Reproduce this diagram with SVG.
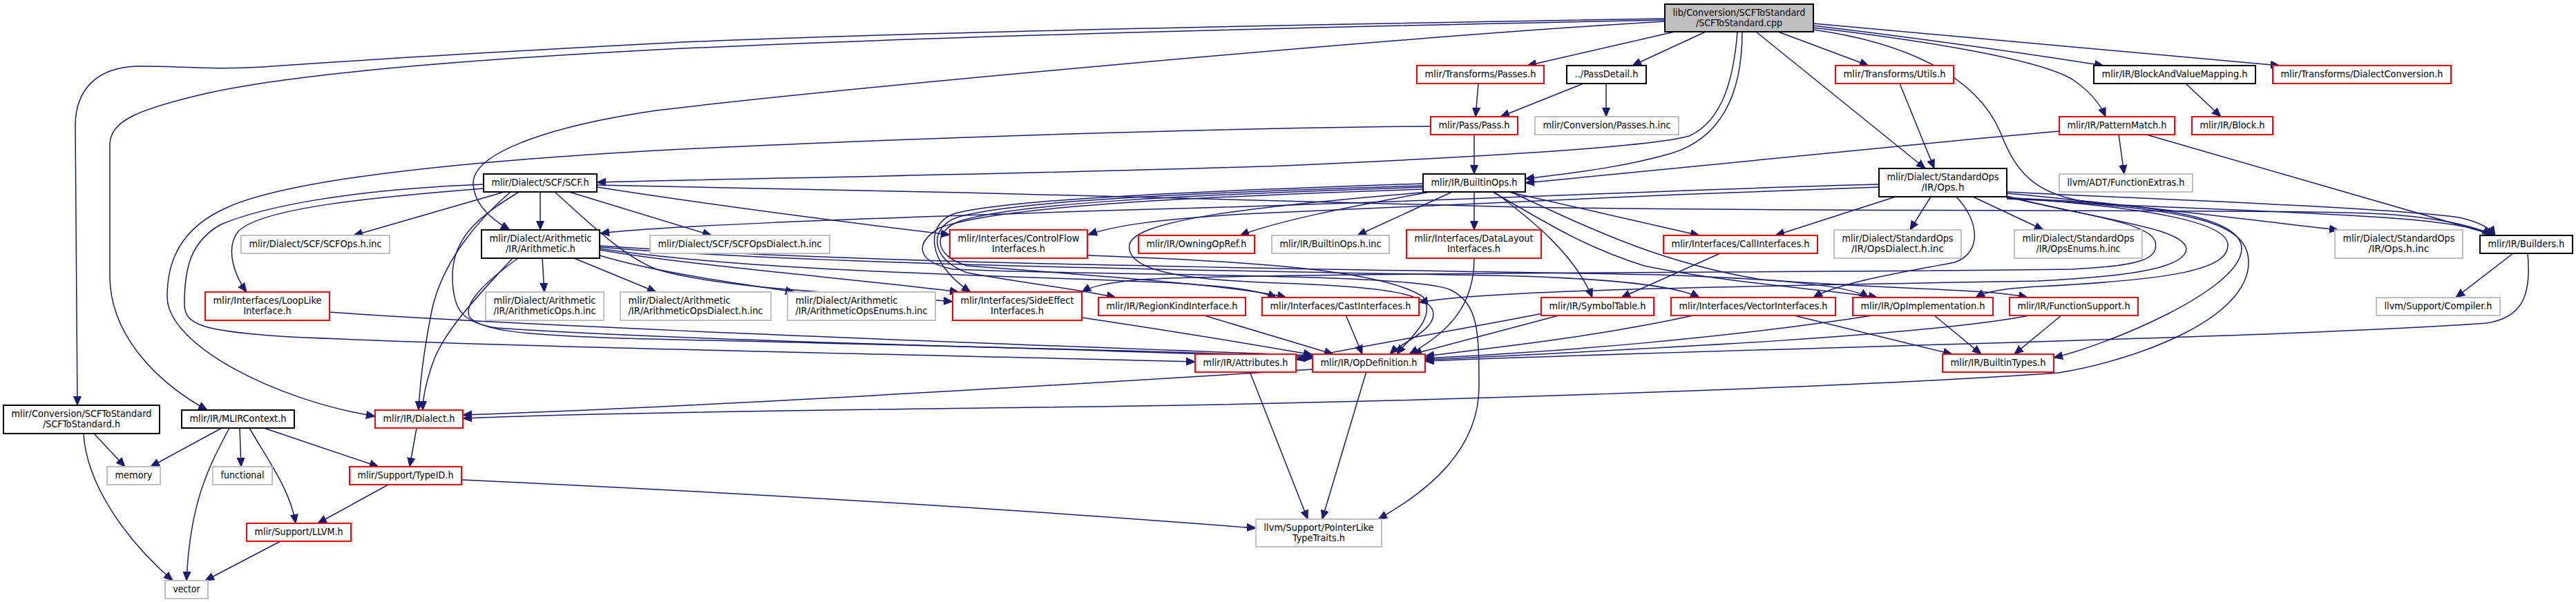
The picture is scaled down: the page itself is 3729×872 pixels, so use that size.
<svg xmlns="http://www.w3.org/2000/svg" width="3729" height="872" viewBox="0 0 3729 872">
<style>
rect{fill:#fff;stroke-width:2}
.k{stroke:#000}
.r{stroke:#ff0000}
.g{stroke:#bfbfbf}
.root{fill:#bfbfbf;stroke:#000}
text{font-family:"DejaVu Sans Condensed","DejaVu Sans",sans-serif;font-size:13.5px;fill:#000;text-anchor:middle}
.s{text-anchor:start}
#edges path{fill:none;stroke:#191970;stroke-width:1.5;marker-end:url(#ah)}
</style>
<defs>
<marker id="ah" markerWidth="14" markerHeight="12" refX="13" refY="6" orient="auto" markerUnits="userSpaceOnUse"><path d="M0,0.5 L13,6 L0,11.5 z" fill="#191970" stroke="#191970" stroke-width="1"/></marker>
</defs>
<rect x="0" y="0" width="3729" height="872" style="fill:#fff;stroke:none"/>
<g id="edges">
<path d="M2410,27 C1800,37 1200,50 950,63 C700,76 480,90 380,97 C300,102 260,95 200,96 C140,97 110,130 109,180 L112,587"/>
<path d="M2410,29 C1800,41 1300,55 950,72 C650,88 420,108 300,135 C200,158 159,175 159,210 L159,400 C159,480 220,550 300,594"/>
<path d="M2410,31 C2000,55 1200,130 950,160 C780,185 685,225 685,265 C685,295 712,318 738,333"/>
<path d="M2515,46 C2510,110 2495,175 2445,197 C2400,210 2200,225 1860,240 C1500,252 1100,258 864,264"/>
<path d="M2522,46 C2522,140 2490,200 2420,222 C2340,245 2260,252 2208,259"/>
<path d="M2424,46 L2211,95"/>
<path d="M2469,46 L2363,95"/>
<path d="M2542,46 L2787,244"/>
<path d="M2574,46 L2705,95"/>
<path d="M2625,40 C2780,58 2950,85 3000,115 C3025,132 3040,150 3048,169"/>
<path d="M2625,37 C2800,58 2950,80 3045,95"/>
<path d="M2625,34 L3300,95"/>
<path d="M2625,43 C2760,62 2860,110 2895,190 C2920,255 2950,288 3050,296 C3300,308 3560,312 3612,341"/>
<path d="M2140,121 L2136,169"/>
<path d="M2292,121 L2172,169"/>
<path d="M2325,121 L2325,169"/>
<path d="M2134,195 L2134,252"/>
<path d="M2071,183 C1700,186 1200,205 950,218 C650,235 420,260 330,300 C260,330 242,380 242,430 C242,500 400,580 543,603"/>
<path d="M2750,121 L2800,244"/>
<path d="M3164,121 L3215,169"/>
<path d="M3067,195 L3075,252"/>
<path d="M3107,195 L3612,341"/>
<path d="M2981,190 C2700,215 2400,245 2208,265"/>
<path d="M782,278 L782,333"/>
<path d="M730,278 L512,341"/>
<path d="M824,278 L1030,341"/>
<path d="M700,273 C550,285 380,300 345,335 C325,360 340,400 357,423"/>
<path d="M864,271 C1050,300 1250,325 1375,340"/>
<path d="M803,278 C850,320 900,370 950,390 C1050,420 1250,425 1379,437"/>
<path d="M751,278 C700,310 655,340 655,400 C655,450 670,468 720,475 C1000,495 1600,505 1900,519"/>
<path d="M739,278 C690,320 640,380 625,450 C615,500 608,550 606,594"/>
<path d="M864,268 C1300,276 1800,288 2200,300 C2700,308 3300,302 3450,310 C3540,316 3590,330 3606,341"/>
<path d="M700,267 C500,275 380,300 320,325 C275,350 267,390 267,440 C267,470 290,480 420,488 C800,505 1400,515 1730,524"/>
<path d="M785,374 L788,423"/>
<path d="M831,374 L950,423"/>
<path d="M868,370 C950,395 1080,412 1150,423"/>
<path d="M868,362 C1000,385 1250,405 1388,423"/>
<path d="M868,360 C1100,395 1500,400 1700,410 C1780,415 1820,420 1848,431"/>
<path d="M868,358 C1200,385 1800,392 2200,400 C2350,405 2430,415 2460,431"/>
<path d="M868,356 C1300,385 2000,390 2400,398 C2600,405 2680,415 2705,431"/>
<path d="M742,374 C700,420 640,480 625,530 C615,560 612,580 612,594"/>
<path d="M750,374 C700,410 670,440 680,460 C700,480 760,485 900,490 C1300,500 1700,508 1900,517"/>
<path d="M477,452 C800,475 1500,500 1900,515"/>
<path d="M2102,278 L1965,341"/>
<path d="M2134,278 L2134,333"/>
<path d="M2163,278 C2220,320 2280,370 2305,431"/>
<path d="M2184,278 L2460,341"/>
<path d="M2070,278 C1950,300 1850,320 1795,341"/>
<path d="M2161,278 C2250,330 2300,360 2380,385 C2500,410 2650,420 2718,431"/>
<path d="M2187,278 C2300,330 2400,380 2550,405 C2750,420 2880,418 2935,431"/>
<path d="M2060,266 C1700,278 1450,290 1380,310 C1340,325 1340,380 1405,423"/>
<path d="M2060,269 C1700,280 1460,292 1385,315 C1345,330 1345,375 1400,395 C1480,410 1570,420 1615,431"/>
<path d="M2060,271 C1700,283 1470,295 1390,320 C1350,335 1350,370 1400,385 C1600,400 1800,415 1862,431"/>
<path d="M2060,274 C1700,286 1440,300 1360,330 C1320,355 1330,380 1380,390 C1600,400 2050,395 2100,420 C2140,440 2141,480 2141,560 C2141,650 2070,710 1995,752"/>
<path d="M2070,278 C1800,300 1640,320 1635,355 C1630,390 1700,405 1850,410 C2000,415 2075,425 2075,455 C2075,480 2030,495 2012,513"/>
<path d="M2720,267 C2400,275 2100,292 1600,305 C1200,318 950,328 869,338"/>
<path d="M2720,271 C2400,282 2000,300 1800,310 C1680,318 1620,325 1575,340"/>
<path d="M2744,285 L2570,341"/>
<path d="M2795,285 L2765,333"/>
<path d="M2856,285 L2958,333"/>
<path d="M2905,280 C3100,298 3250,318 3385,333"/>
<path d="M2905,278 C3100,288 3450,300 3560,315 C3590,322 3605,330 3612,341"/>
<path d="M2905,284 C3000,310 3110,320 3120,350 C3125,375 3100,385 3000,390 C2600,395 1800,395 1650,405 C1600,410 1580,415 1566,423"/>
<path d="M2905,285 C3050,320 3160,330 3165,360 C3165,385 3100,400 2950,407 C2500,415 2150,420 2054,438"/>
<path d="M2905,286 C3100,300 3225,320 3225,355 C3225,390 3150,405 2950,415 C2900,418 2875,422 2860,431"/>
<path d="M2905,287 C3150,295 3245,320 3245,360 C3245,420 3050,500 2973,518"/>
<path d="M2905,288 C3200,300 3255,330 3255,380 C3255,460 3100,520 2980,540 C2700,560 2000,585 1500,590 C1100,595 800,600 670,606"/>
<path d="M2832,285 C2865,320 2870,365 2830,380 C2750,395 2660,410 2625,431"/>
<path d="M3638,367 L3555,431"/>
<path d="M3659,367 C3665,430 3650,460 3600,468 C3300,490 2500,505 2063,523"/>
<path d="M2490,367 L2347,431"/>
<path d="M2134,374 C2134,440 2100,480 2040,513"/>
<path d="M1574,370 C1800,378 2000,390 2060,430 C2080,460 2040,490 2022,513"/>
<path d="M1566,460 C1700,480 1820,500 1900,514"/>
<path d="M1740,456 L1930,513"/>
<path d="M1948,456 L1972,513"/>
<path d="M2233,454 C2100,480 1950,505 1876,521"/>
<path d="M2260,456 L2045,513"/>
<path d="M2456,456 C2300,490 2150,505 2063,516"/>
<path d="M2593,456 L2826,513"/>
<path d="M2717,456 C2500,490 2250,510 2063,519"/>
<path d="M2799,456 L2868,513"/>
<path d="M2943,456 C2800,485 2400,505 2063,521"/>
<path d="M2985,456 L2916,513"/>
<path d="M1809,538 L1893,752"/>
<path d="M1978,538 L1914,752"/>
<path d="M1900,535 C1500,560 1000,590 670,601"/>
<path d="M668,695 C1100,715 1500,740 1818,765"/>
<path d="M603,620 L593,676"/>
<path d="M562,702 L460,758"/>
<path d="M321,620 L218,676"/>
<path d="M347,620 L349,676"/>
<path d="M382,620 L548,676"/>
<path d="M361,620 C390,670 420,710 428,758"/>
<path d="M332,620 C300,680 275,730 270,841"/>
<path d="M136,628 L181,676"/>
<path d="M121,628 C125,700 180,780 250,841"/>
<path d="M406,784 L297,841"/>
</g>
<g id="n_root"><rect class="root" x="2410" y="6" width="215" height="40"/><text x="2517.5" y="23" textLength="192" lengthAdjust="spacingAndGlyphs">lib/Conversion/SCFToStandard</text><text x="2517.5" y="38" textLength="125" lengthAdjust="spacingAndGlyphs">/SCFToStandard.cpp</text></g>
<g id="n_passes"><rect class="r" x="2051" y="95" width="184" height="26"/><text x="2143" y="112" textLength="161" lengthAdjust="spacingAndGlyphs">mlir/Transforms/Passes.h</text></g>
<g id="n_passdetail"><rect class="k" x="2268" y="95" width="115" height="26"/><text x="2325.5" y="112" textLength="92" lengthAdjust="spacingAndGlyphs">../PassDetail.h</text></g>
<g id="n_utils"><rect class="r" x="2657" y="95" width="171" height="26"/><text x="2742.5" y="112" textLength="148" lengthAdjust="spacingAndGlyphs">mlir/Transforms/Utils.h</text></g>
<g id="n_bavm"><rect class="k" x="3031" y="95" width="234" height="26"/><text x="3148" y="112" textLength="211" lengthAdjust="spacingAndGlyphs">mlir/IR/BlockAndValueMapping.h</text></g>
<g id="n_dialectconversion"><rect class="r" x="3290" y="95" width="258" height="26"/><text x="3419" y="112" textLength="235" lengthAdjust="spacingAndGlyphs">mlir/Transforms/DialectConversion.h</text></g>
<g id="n_pass"><rect class="r" x="2071" y="169" width="126" height="26"/><text x="2134" y="186" textLength="103" lengthAdjust="spacingAndGlyphs">mlir/Pass/Pass.h</text></g>
<g id="n_convpassesinc"><rect class="g" x="2222" y="169" width="208" height="26"/><text x="2326" y="186" textLength="185" lengthAdjust="spacingAndGlyphs">mlir/Conversion/Passes.h.inc</text></g>
<g id="n_patternmatch"><rect class="r" x="2981" y="169" width="167" height="26"/><text x="3064.5" y="186" textLength="144" lengthAdjust="spacingAndGlyphs">mlir/IR/PatternMatch.h</text></g>
<g id="n_block"><rect class="r" x="3173" y="169" width="117" height="26"/><text x="3231.5" y="186" textLength="94" lengthAdjust="spacingAndGlyphs">mlir/IR/Block.h</text></g>
<g id="n_scf"><rect class="k" x="700" y="252" width="164" height="26"/><text x="782" y="269" textLength="141" lengthAdjust="spacingAndGlyphs">mlir/Dialect/SCF/SCF.h</text></g>
<g id="n_builtinops"><rect class="k" x="2060" y="252" width="148" height="26"/><text x="2134" y="269" textLength="125" lengthAdjust="spacingAndGlyphs">mlir/IR/BuiltinOps.h</text></g>
<g id="n_stdops"><rect class="k" x="2720" y="244" width="185" height="41"/><text x="2812.5" y="261" textLength="162" lengthAdjust="spacingAndGlyphs">mlir/Dialect/StandardOps</text><text x="2812.5" y="276" textLength="62" lengthAdjust="spacingAndGlyphs">/IR/Ops.h</text></g>
<g id="n_functionextras"><rect class="g" x="2981" y="252" width="193" height="26"/><text x="3077.5" y="269" textLength="170" lengthAdjust="spacingAndGlyphs">llvm/ADT/FunctionExtras.h</text></g>
<g id="n_scfopsinc"><rect class="g" x="349" y="341" width="215" height="26"/><text x="456.5" y="358" textLength="192" lengthAdjust="spacingAndGlyphs">mlir/Dialect/SCF/SCFOps.h.inc</text></g>
<g id="n_arith"><rect class="k" x="697" y="333" width="171" height="41"/><text x="782.5" y="350" textLength="148" lengthAdjust="spacingAndGlyphs">mlir/Dialect/Arithmetic</text><text x="782.5" y="365" textLength="101" lengthAdjust="spacingAndGlyphs">/IR/Arithmetic.h</text></g>
<g id="n_scfopsdialectinc"><rect class="g" x="941" y="341" width="260" height="26"/><text x="1071" y="358" textLength="237" lengthAdjust="spacingAndGlyphs">mlir/Dialect/SCF/SCFOpsDialect.h.inc</text></g>
<g id="n_controlflow"><rect class="r" x="1375" y="333" width="199" height="41"/><text x="1474.5" y="350" textLength="176" lengthAdjust="spacingAndGlyphs">mlir/Interfaces/ControlFlow</text><text x="1474.5" y="365" textLength="77" lengthAdjust="spacingAndGlyphs">Interfaces.h</text></g>
<g id="n_owningopref"><rect class="r" x="1648" y="341" width="168" height="26"/><text x="1732" y="358" textLength="145" lengthAdjust="spacingAndGlyphs">mlir/IR/OwningOpRef.h</text></g>
<g id="n_builtinopsinc"><rect class="g" x="1841" y="341" width="170" height="26"/><text x="1926" y="358" textLength="147" lengthAdjust="spacingAndGlyphs">mlir/IR/BuiltinOps.h.inc</text></g>
<g id="n_datalayout"><rect class="r" x="2036" y="333" width="195" height="41"/><text x="2133.5" y="350" textLength="172" lengthAdjust="spacingAndGlyphs">mlir/Interfaces/DataLayout</text><text x="2133.5" y="365" textLength="77" lengthAdjust="spacingAndGlyphs">Interfaces.h</text></g>
<g id="n_callinterfaces"><rect class="r" x="2408" y="341" width="223" height="26"/><text x="2519.5" y="358" textLength="200" lengthAdjust="spacingAndGlyphs">mlir/Interfaces/CallInterfaces.h</text></g>
<g id="n_opsdialectinc"><rect class="g" x="2655" y="333" width="184" height="41"/><text x="2747" y="350" textLength="161" lengthAdjust="spacingAndGlyphs">mlir/Dialect/StandardOps</text><text x="2747" y="365" textLength="134" lengthAdjust="spacingAndGlyphs">/IR/OpsDialect.h.inc</text></g>
<g id="n_opsenumsinc"><rect class="g" x="2916" y="333" width="185" height="41"/><text x="3008.5" y="350" textLength="162" lengthAdjust="spacingAndGlyphs">mlir/Dialect/StandardOps</text><text x="3008.5" y="365" textLength="122" lengthAdjust="spacingAndGlyphs">/IR/OpsEnums.h.inc</text></g>
<g id="n_opsinc"><rect class="g" x="3380" y="333" width="185" height="41"/><text x="3472.5" y="350" textLength="162" lengthAdjust="spacingAndGlyphs">mlir/Dialect/StandardOps</text><text x="3472.5" y="365" textLength="88" lengthAdjust="spacingAndGlyphs">/IR/Ops.h.inc</text></g>
<g id="n_builders"><rect class="k" x="3590" y="341" width="134" height="26"/><text x="3657" y="358" textLength="111" lengthAdjust="spacingAndGlyphs">mlir/IR/Builders.h</text></g>
<g id="n_looplike"><rect class="r" x="297" y="423" width="180" height="41"/><text x="387" y="440" textLength="157" lengthAdjust="spacingAndGlyphs">mlir/Interfaces/LoopLike</text><text x="387" y="455" textLength="69" lengthAdjust="spacingAndGlyphs">Interface.h</text></g>
<g id="n_arithopsinc"><rect class="g" x="703" y="423" width="171" height="41"/><text x="788.5" y="440" textLength="148" lengthAdjust="spacingAndGlyphs">mlir/Dialect/Arithmetic</text><text x="788.5" y="455" textLength="148" lengthAdjust="spacingAndGlyphs">/IR/ArithmeticOps.h.inc</text></g>
<g id="n_arithopsdialectinc"><rect class="g" x="898" y="423" width="218" height="41"/><text class="s" x="909.5" y="440" textLength="148" lengthAdjust="spacingAndGlyphs">mlir/Dialect/Arithmetic</text><text x="1007" y="455" textLength="195" lengthAdjust="spacingAndGlyphs">/IR/ArithmeticOpsDialect.h.inc</text></g>
<g id="n_arithopsenumsinc"><rect class="g" x="1140" y="423" width="214" height="41"/><text class="s" x="1151.5" y="440" textLength="148" lengthAdjust="spacingAndGlyphs">mlir/Dialect/Arithmetic</text><text x="1247" y="455" textLength="191" lengthAdjust="spacingAndGlyphs">/IR/ArithmeticOpsEnums.h.inc</text></g>
<g id="n_sideeffect"><rect class="r" x="1379" y="423" width="187" height="41"/><text x="1472.5" y="440" textLength="164" lengthAdjust="spacingAndGlyphs">mlir/Interfaces/SideEffect</text><text x="1472.5" y="455" textLength="77" lengthAdjust="spacingAndGlyphs">Interfaces.h</text></g>
<g id="n_regionkind"><rect class="r" x="1590" y="431" width="213" height="26"/><text x="1696.5" y="448" textLength="190" lengthAdjust="spacingAndGlyphs">mlir/IR/RegionKindInterface.h</text></g>
<g id="n_castinterfaces"><rect class="r" x="1827" y="431" width="227" height="26"/><text x="1940.5" y="448" textLength="204" lengthAdjust="spacingAndGlyphs">mlir/Interfaces/CastInterfaces.h</text></g>
<g id="n_symboltable"><rect class="r" x="2231" y="431" width="163" height="26"/><text x="2312.5" y="448" textLength="140" lengthAdjust="spacingAndGlyphs">mlir/IR/SymbolTable.h</text></g>
<g id="n_vectorinterfaces"><rect class="r" x="2419" y="431" width="238" height="26"/><text x="2538" y="448" textLength="215" lengthAdjust="spacingAndGlyphs">mlir/Interfaces/VectorInterfaces.h</text></g>
<g id="n_opimplementation"><rect class="r" x="2682" y="431" width="203" height="26"/><text x="2783.5" y="448" textLength="180" lengthAdjust="spacingAndGlyphs">mlir/IR/OpImplementation.h</text></g>
<g id="n_functionsupport"><rect class="r" x="2909" y="431" width="186" height="26"/><text x="3002" y="448" textLength="163" lengthAdjust="spacingAndGlyphs">mlir/IR/FunctionSupport.h</text></g>
<g id="n_compiler"><rect class="g" x="3440" y="431" width="179" height="26"/><text x="3529.5" y="448" textLength="156" lengthAdjust="spacingAndGlyphs">llvm/Support/Compiler.h</text></g>
<g id="n_attributes"><rect class="r" x="1730" y="513" width="146" height="26"/><text x="1803" y="530" textLength="123" lengthAdjust="spacingAndGlyphs">mlir/IR/Attributes.h</text></g>
<g id="n_opdefinition"><rect class="r" x="1900" y="513" width="163" height="26"/><text x="1981.5" y="530" textLength="140" lengthAdjust="spacingAndGlyphs">mlir/IR/OpDefinition.h</text></g>
<g id="n_builtintypes"><rect class="r" x="2812" y="513" width="161" height="26"/><text x="2892.5" y="530" textLength="138" lengthAdjust="spacingAndGlyphs">mlir/IR/BuiltinTypes.h</text></g>
<g id="n_scftostandardh"><rect class="k" x="5" y="587" width="226" height="41"/><text x="118" y="604" textLength="203" lengthAdjust="spacingAndGlyphs">mlir/Conversion/SCFToStandard</text><text x="118" y="619" textLength="112" lengthAdjust="spacingAndGlyphs">/SCFToStandard.h</text></g>
<g id="n_mlircontext"><rect class="k" x="263" y="594" width="163" height="26"/><text x="344.5" y="611" textLength="140" lengthAdjust="spacingAndGlyphs">mlir/IR/MLIRContext.h</text></g>
<g id="n_dialect"><rect class="r" x="543" y="594" width="127" height="26"/><text x="606.5" y="611" textLength="104" lengthAdjust="spacingAndGlyphs">mlir/IR/Dialect.h</text></g>
<g id="n_memory"><rect class="g" x="155" y="676" width="77" height="26"/><text x="193.5" y="693" textLength="54" lengthAdjust="spacingAndGlyphs">memory</text></g>
<g id="n_functional"><rect class="g" x="308" y="676" width="86" height="26"/><text x="351" y="693" textLength="63" lengthAdjust="spacingAndGlyphs">functional</text></g>
<g id="n_typeid"><rect class="r" x="506" y="676" width="162" height="26"/><text x="587" y="693" textLength="139" lengthAdjust="spacingAndGlyphs">mlir/Support/TypeID.h</text></g>
<g id="n_pointerlike"><rect class="g" x="1818" y="752" width="182" height="40"/><text x="1909" y="769" textLength="159" lengthAdjust="spacingAndGlyphs">llvm/Support/PointerLike</text><text x="1909" y="784" textLength="76" lengthAdjust="spacingAndGlyphs">TypeTraits.h</text></g>
<g id="n_llvm"><rect class="r" x="357" y="758" width="151" height="26"/><text x="432.5" y="775" textLength="128" lengthAdjust="spacingAndGlyphs">mlir/Support/LLVM.h</text></g>
<g id="n_vector"><rect class="g" x="239" y="841" width="62" height="26"/><text x="270" y="858" textLength="39" lengthAdjust="spacingAndGlyphs">vector</text></g>
</svg>
